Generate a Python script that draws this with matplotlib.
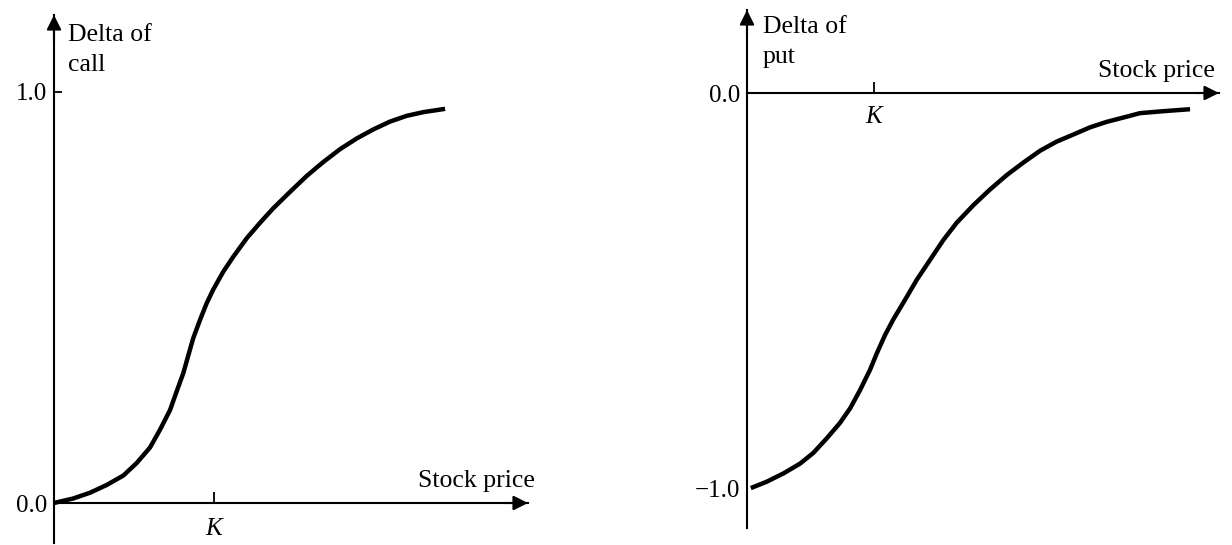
import matplotlib
matplotlib.use("Agg")
import matplotlib.pyplot as plt

plt.rcParams['font.family'] = ['Liberation Serif', 'DejaVu Serif']

K = 50  # strike, stock price axis is in units where K = 50

# delta of call
call_price = [0, 6.0, 11.25, 16.5, 21.7, 25.8, 30.0, 33.1, 36.25, 38.3, 40.4, 42.0,
              43.5, 45.6, 47.7, 49.8, 52.9, 56.0, 60.2, 64.4, 68.5, 73.75, 79.0,
              84.2, 89.4, 94.6, 99.8, 105.0, 110.2, 115.4, 122.2]
call_delta = [0.0, 0.011, 0.025, 0.044, 0.067, 0.097, 0.135, 0.178, 0.226, 0.271,
              0.316, 0.360, 0.401, 0.445, 0.486, 0.520, 0.563, 0.599, 0.644, 0.682,
              0.717, 0.757, 0.796, 0.830, 0.861, 0.887, 0.909, 0.928, 0.942, 0.951,
              0.959]

# delta of put
put_price = [1.5, 7.7, 14.3, 20.9, 26.1, 31.4, 36.6, 40.6, 44.5, 48.4, 51.1, 54.3,
             57.6, 62.9, 66.8, 72.0, 77.3, 82.6, 89.1, 95.7, 102.2, 108.8, 115.4,
             121.9, 128.5, 135.0, 141.6, 148.2, 154.7, 163.9, 174.4]
put_delta = [-1.0, -0.984, -0.963, -0.938, -0.911, -0.874, -0.835, -0.798, -0.752,
             -0.701, -0.659, -0.613, -0.573, -0.516, -0.473, -0.423, -0.372, -0.328,
             -0.284, -0.244, -0.208, -0.176, -0.146, -0.123, -0.105, -0.087, -0.073,
             -0.062, -0.051, -0.046, -0.041]

W, H = 1232, 545
fig = plt.figure(figsize=(W / 100, H / 100), dpi=100)


def px_axes(x0, x1, y0, y1):
    # place an axes by its pixel box (top-left origin)
    return fig.add_axes([x0 / W, 1 - y1 / H, (x1 - x0) / W, (y1 - y0) / H])


def style(ax, xlim, ylim, yticks, ylabels, ylen, kpad):
    ax.set_xlim(*xlim)
    ax.set_ylim(*ylim)
    ax.patch.set_visible(False)
    for s in ['top', 'right']:
        ax.spines[s].set_visible(False)
    for s in ['bottom', 'left']:
        ax.spines[s].set_linewidth(1.5)
        ax.spines[s].set_position(('data', 0))
    ax.set_xticks([K])
    ax.set_xticklabels(['K'], fontstyle='italic', fontsize=18)
    ax.tick_params(axis='x', direction='in', length=8, width=1.3, pad=kpad)
    ax.set_yticks(yticks)
    ax.set_yticklabels(ylabels, fontsize=18)
    ax.tick_params(axis='y', direction='in', length=ylen, width=1.3, pad=5)
    arrow = dict(arrowstyle='-|>', color='black', lw=1.5, mutation_scale=22,
                 shrinkA=0, shrinkB=0)
    ax.annotate('', xy=(1, 0), xycoords=ax.get_yaxis_transform(),
                xytext=(0.95, 0), textcoords=ax.get_yaxis_transform(),
                arrowprops=arrow, annotation_clip=False)
    ax.annotate('', xy=(0, 1), xycoords=ax.get_xaxis_transform(),
                xytext=(0, 0.95), textcoords=ax.get_xaxis_transform(),
                arrowprops=arrow, annotation_clip=False)


# --- left: call ---
ax1 = px_axes(54, 528, 15, 543)
style(ax1, (0, 148.1), (-0.0973, 1.1873), [0, 1], ['0.0', '1.0'], 6, 11)
ax1.plot(call_price, call_delta, color='black', lw=3.2,
         solid_capstyle='butt', solid_joinstyle='round')

# --- right: put ---
ax2 = px_axes(747, 1219, 10, 528)
style(ax2, (0, 185.8), (-1.101, 0.2101), [0, -1], ['0.0', '\u22121.0'], 0, 9.5)
ax2.plot(put_price, put_delta, color='black', lw=3.2,
         solid_capstyle='butt', solid_joinstyle='round')

fig.text(68 / W, 1 - 24 / H, 'Delta of\ncall', ha='left', va='top', fontsize=18.5,
         linespacing=1.45)
fig.text(763 / W, 1 - 16 / H, 'Delta of\nput', ha='left', va='top', fontsize=18.5,
         linespacing=1.45)
fig.text(418 / W, 1 - 487 / H, 'Stock price', ha='left', va='baseline', fontsize=18.5)
fig.text(1098 / W, 1 - 77 / H, 'Stock price', ha='left', va='baseline', fontsize=18.5)

fig.savefig('out.png', dpi=100)
